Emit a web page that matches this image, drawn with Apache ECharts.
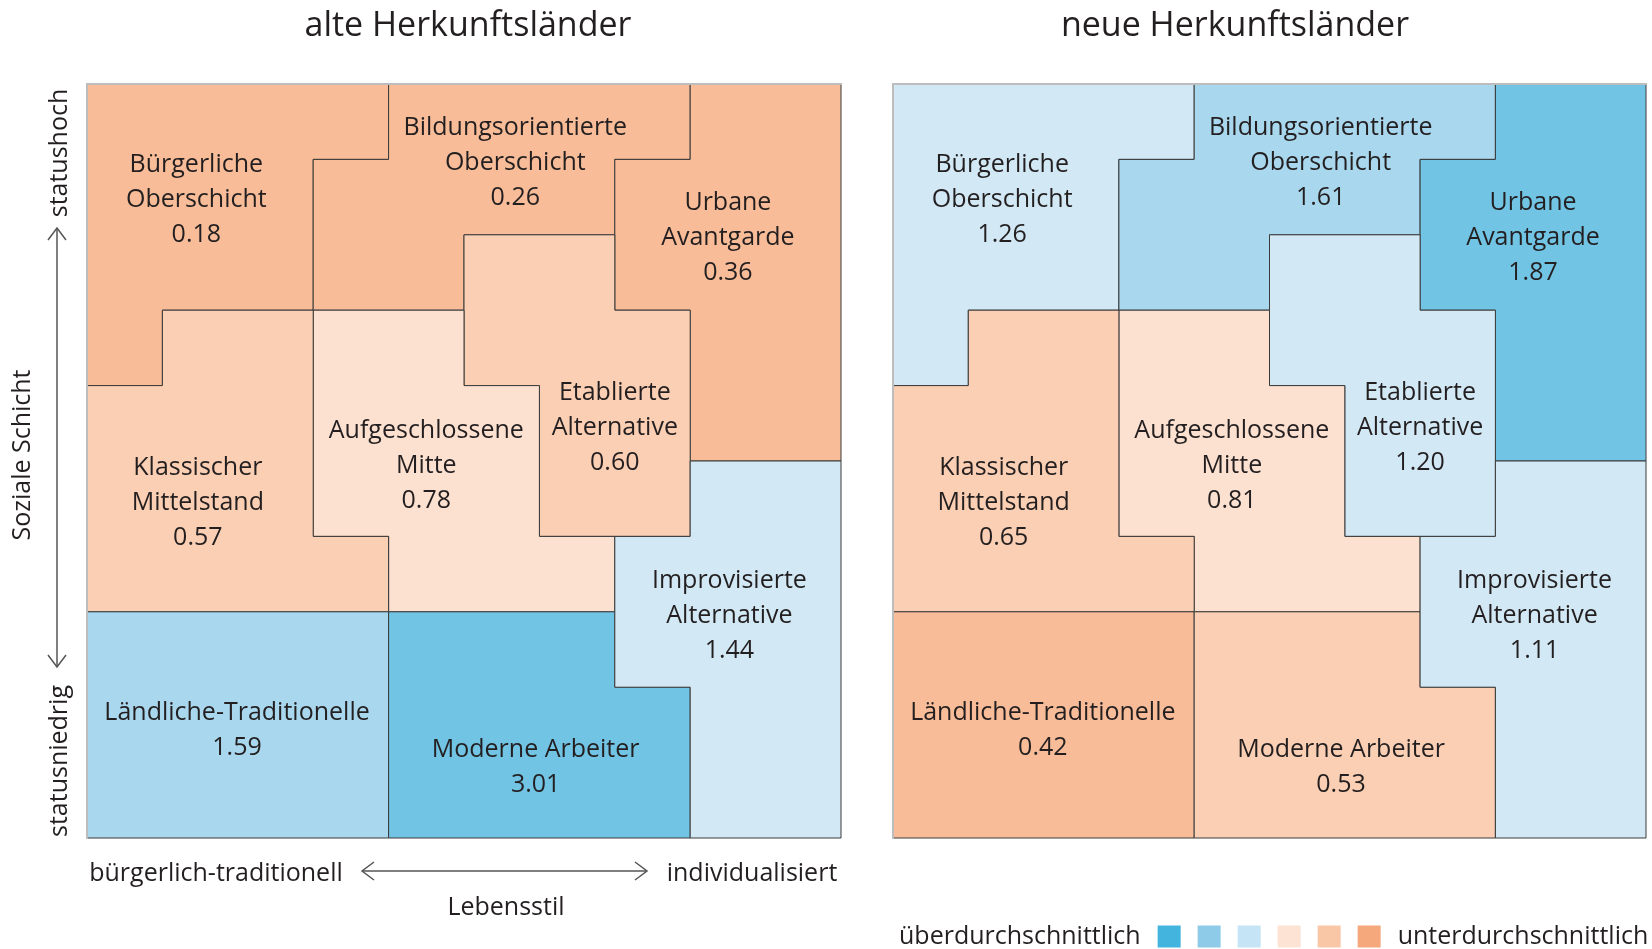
<!DOCTYPE html>
<html lang="de">
<head>
    <meta charset="UTF-8">
    <title>Milieus nach Herkunftsländern</title>
    <script src="https://cdn.jsdelivr.net/npm/echarts@6/dist/echarts.min.js"></script>
    <style>
        body { margin: 0; background: #fff; }
        #chart { width: 1652px; height: 949px; }
    </style>
</head>
<body>
    <div id="chart"></div>
    <script>
        // Milieu-Namen (Zeilenumbruch wie im Original)
        const milieuNames = [
            'Bürgerliche\nOberschicht', 'Bildungsorientierte\nOberschicht', 'Urbane\nAvantgarde',
            'Etablierte\nAlternative', 'Aufgeschlossene\nMitte', 'Klassischer\nMittelstand',
            'Ländliche-Traditionelle', 'Moderne Arbeiter', 'Improvisierte\nAlternative'
        ];
        // Werte je Milieu
        const valuesAlt = [0.18, 0.26, 0.36, 0.60, 0.78, 0.57, 1.59, 3.01, 1.44];
        const valuesNeu = [1.26, 1.61, 1.87, 1.20, 0.81, 0.65, 0.42, 0.53, 1.11];
        // Umrisse der Milieus im 10x10 Raster (x: Lebensstil, y: von oben)
        const milieuShapes = [
            [[0,0],[4,0],[4,1],[3,1],[3,3],[1,3],[1,4],[0,4]],
            [[4,0],[8,0],[8,1],[7,1],[7,2],[5,2],[5,3],[3,3],[3,1],[4,1]],
            [[8,0],[10,0],[10,5],[8,5],[8,3],[7,3],[7,1],[8,1]],
            [[5,2],[7,2],[7,3],[8,3],[8,6],[6,6],[6,4],[5,4]],
            [[3,3],[5,3],[5,4],[6,4],[6,6],[7,6],[7,7],[4,7],[4,6],[3,6]],
            [[1,3],[3,3],[3,6],[4,6],[4,7],[0,7],[0,4],[1,4]],
            [[0,7],[4,7],[4,10],[0,10]],
            [[4,7],[7,7],[7,8],[8,8],[8,10],[4,10]],
            [[8,5],[10,5],[10,10],[8,10],[8,8],[7,8],[7,6],[8,6]]
        ];
        // Klassengrenzen der Legende
        const classBreaks = [0.5, 0.75, 1, 1.5, 1.75];

        const labelAt = [
            [1.45, 1.5], [5.68, 1.0], [8.5, 2.0], [7.0, 4.52], [4.5, 5.03],
            [1.47, 5.51], [1.99, 8.53], [5.95, 9.03], [8.52, 7.02]
        ];
        const font = "'Open Sans', sans-serif";
        const textColor = '#231f20';
        const mapColors = ['#f8bd98', '#fbcfb3', '#fde1d0', '#d2e9f5', '#a9d8ee', '#72c4e4'];
        const legendColors = ['#f5a87c', '#f9c6a6', '#fde3d3', '#c5e4f5', '#8ecbe9', '#42b4de'];

        const chart = echarts.init(document.getElementById('chart'));

        function renderMilieu(params, api) {
            const i = params.dataIndex;
            const pts = milieuShapes[i].map(p => api.coord(p));
            const c = api.coord(labelAt[i]);
            return {
                type: 'group',
                children: [
                    {
                        type: 'polygon',
                        shape: { points: pts },
                        style: { fill: api.visual('color'), stroke: '#3a3a3a', lineWidth: 1 }
                    },
                    {
                        type: 'text',
                        x: c[0], y: c[1] + 3,
                        style: {
                            text: milieuNames[i] + '\n' + api.value(1).toFixed(2),
                            align: 'center', verticalAlign: 'middle',
                            font: '25px ' + font, lineHeight: 35, fill: textColor
                        }
                    }
                ]
            };
        }

        function axisPair(gridIndex) {
            const line = { show: true, lineStyle: { color: '#bdbdbd', width: 2 } };
            const base = {
                gridIndex, min: 0, max: 10, type: 'value', z: 5,
                axisLine: line, axisTick: { show: false }, axisLabel: { show: false }, splitLine: { show: false }
            };
            return {
                x: [Object.assign({ position: 'bottom' }, base), Object.assign({ position: 'top' }, base)],
                y: [Object.assign({ position: 'left', inverse: true }, base), Object.assign({ position: 'right', inverse: true }, base)]
            };
        }
        const a0 = axisPair(0), a1 = axisPair(1);

        const arrowStyle = { stroke: '#555', lineWidth: 1.5, fill: null };
        function txt(x, y, s, size, opts) {
            return Object.assign({
                type: 'text', x, y,
                style: { text: s, font: (size || 25) + 'px ' + font, fill: textColor, align: 'center', verticalAlign: 'middle' }
            }, opts || {});
        }

        const option = {
            animation: false,
            grid: [
                { left: 87, top: 84, width: 754, height: 754 },
                { left: 893, top: 84, width: 753, height: 754 }
            ],
            xAxis: [a0.x[0], a0.x[1], a1.x[0], a1.x[1]],
            yAxis: [a0.y[0], a0.y[1], a1.y[0], a1.y[1]],
            visualMap: {
                type: 'piecewise',
                orient: 'horizontal',
                inverse: true,
                seriesIndex: [0, 1],
                dimension: 1,
                pieces: [
                    { lt: classBreaks[0] },
                    { gte: classBreaks[0], lt: classBreaks[1] },
                    { gte: classBreaks[1], lt: classBreaks[2] },
                    { gte: classBreaks[2], lt: classBreaks[3] },
                    { gte: classBreaks[3], lt: classBreaks[4] },
                    { gte: classBreaks[4] }
                ],
                inRange: { color: mapColors },
                controller: { inRange: { color: legendColors } },
                text: ['überdurchschnittlich', 'unterdurchschnittlich'],
                itemSymbol: 'rect',
                itemWidth: 23, itemHeight: 22, itemGap: 17, textGap: 11,
                left: 884, top: 909,
                hoverLink: false, selectedMode: false,
                textStyle: { fontSize: 25, fontFamily: font, color: textColor }
            },
            graphic: [
                txt(468, 26, 'alte Herkunftsländer', 34),
                txt(1235, 26, 'neue Herkunftsländer', 34),
                txt(60, 153, 'statushoch', 25, { rotation: Math.PI / 2 }),
                txt(60, 761, 'statusniedrig', 25, { rotation: Math.PI / 2 }),
                txt(23, 455, 'Soziale Schicht', 25, { rotation: Math.PI / 2 }),
                { type: 'polyline', shape: { points: [[57, 228], [57, 667]] }, style: arrowStyle },
                { type: 'polyline', shape: { points: [[48, 240], [57, 228], [66, 240]] }, style: arrowStyle },
                { type: 'polyline', shape: { points: [[48, 655], [57, 667], [66, 655]] }, style: arrowStyle },
                txt(216, 874, 'bürgerlich-traditionell'),
                txt(752, 874, 'individualisiert'),
                txt(506, 908, 'Lebensstil'),
                { type: 'polyline', shape: { points: [[362, 871], [647, 871]] }, style: arrowStyle },
                { type: 'polyline', shape: { points: [[374, 862], [362, 871], [374, 880]] }, style: arrowStyle },
                { type: 'polyline', shape: { points: [[635, 862], [647, 871], [635, 880]] }, style: arrowStyle }
            ],
            series: [
                {
                    name: 'alte Herkunftsländer', type: 'custom', silent: true,
                    xAxisIndex: 0, yAxisIndex: 0,
                    renderItem: renderMilieu,
                    data: valuesAlt.map((v, i) => [i, v])
                },
                {
                    name: 'neue Herkunftsländer', type: 'custom', silent: true,
                    xAxisIndex: 2, yAxisIndex: 2,
                    renderItem: renderMilieu,
                    data: valuesNeu.map((v, i) => [i, v])
                }
            ]
        };

        chart.setOption(option);
    </script>
</body>
</html>
